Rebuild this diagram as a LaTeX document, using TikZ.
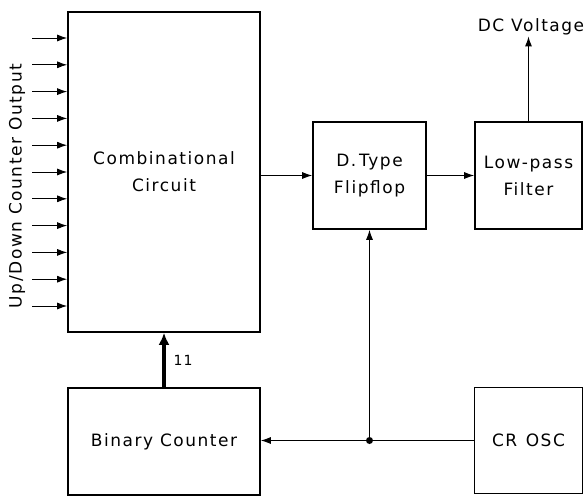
\documentclass[tikz,border=0pt]{standalone}
\usepackage{fontspec}
\setmainfont[LetterSpace=9]{DejaVu Sans}
\usepackage{tikz}
\usetikzlibrary{arrows.meta,positioning,calc}

\begin{document}
\begin{tikzpicture}[x=1pt, y=-1pt, >={Latex[length=10pt,width=7pt]}]
        \tikzset{
            block/.style={draw, rectangle, line width=1.6pt, align=center, inner sep=0pt, font=\fontsize{17}{27}\selectfont},
            lbl/.style={font=\fontsize{17}{27}\selectfont, inner sep=1pt},
            line/.style={draw, ->, line width=1pt},
            bus/.style={draw, -{Latex[length=12pt,width=11pt]}, line width=4.5pt}
        }
        \useasboundingbox (0,0) rectangle (587,496);

        % Blocks
        \node[block, minimum width=192pt, minimum height=320pt] (comb) at (164, 172) {Combinational\\Circuit};
        \node[block, minimum width=192pt, minimum height=107pt] (counter) at (164, 441.5) {Binary Counter};
        \node[block, minimum width=113pt, minimum height=107pt] (flipflop) at (369.5, 175.5) {D.\,Type\\Flipflop};
        \node[block, minimum width=107pt, minimum height=107pt] (filter) at (528.5, 175.5) {Low-pass\\Filter};
        \node[block, minimum width=108pt, minimum height=106pt] (osc) at (528.5, 440.5) {CR\hspace{0.5em}OSC};

        % Counter output lines
        \foreach \i in {0,...,10} {
            \coordinate (in\i) at (32, 38+26.8*\i);
            \path[line] (in\i) -- (in\i -| comb.west);
        }
        \node[lbl, rotate=90] (updown) at (17, 186) {Up/Down Counter Output};

        % Signal path
        \path[line] (comb.east |- flipflop.west) -- (flipflop.west);
        \path[line] (flipflop) -- (filter);
        \node[lbl] (dc) at (531, 27) {DC Voltage};
        \path[line] (filter.north) -- (dc.south -| filter.north);

        % Clock distribution
        \coordinate (tap) at (flipflop.south |- osc.west);
        \draw[line width=1pt] (osc.west) -- (tap);
        \fill (tap) circle (3.5pt);
        \path[line] (tap) -- (counter.east |- tap);
        \path[line] (tap) -- (flipflop.south);

        % Counter to circuit
        \path[bus] (counter.north) -- node[right=4pt, font=\fontsize{14}{14}\selectfont] {11} (comb.south);
    \end{tikzpicture}
\end{document}
